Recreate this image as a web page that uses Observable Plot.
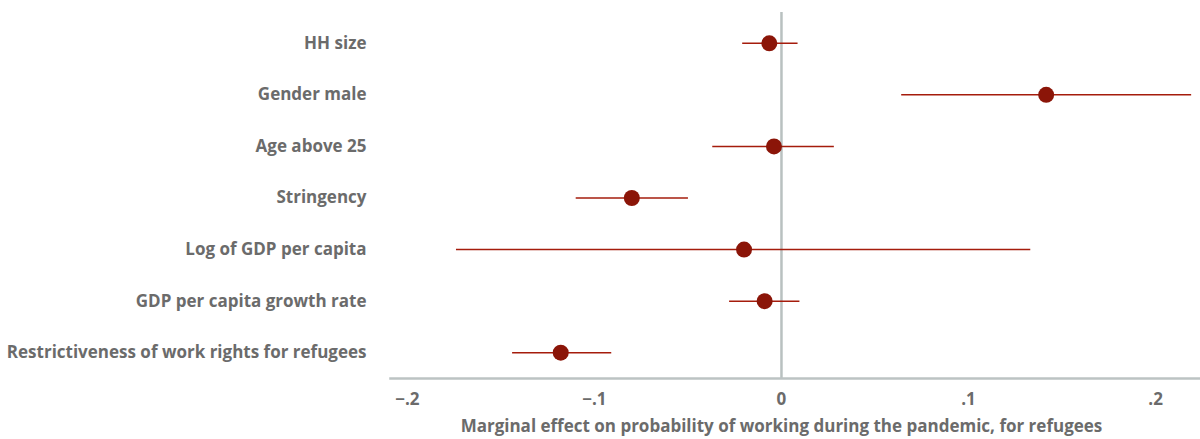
<!DOCTYPE html>
<html>
<head>
<meta charset="utf-8">
<script src="https://cdn.jsdelivr.net/npm/d3@7"></script>
<script src="https://cdn.jsdelivr.net/npm/@observablehq/plot@0.6"></script>
<style>
  body { margin: 0; background: #fff; }
  #chart svg { display: block; }
</style>
</head>
<body>
<div id="chart"></div>
<script>
const variables = [
  "HH size",
  "Gender male",
  "Age above 25",
  "Stringency",
  "Log of GDP per capita",
  "GDP per capita growth rate",
  "Restrictiveness of work rights for refugees"
];
const estimates = [-0.0065, 0.1415, -0.004, -0.080, -0.020, -0.009, -0.118];
const lower =     [-0.021, 0.064, -0.037, -0.110, -0.174, -0.028, -0.144];
const upper =     [0.0086, 0.219, 0.028, -0.050, 0.133, 0.0096, -0.091];
const xTicks = [-0.2, -0.1, 0, 0.1, 0.2];
const xTickLabels = ["\u2212.2", "\u2212.1", "0", ".1", ".2"];
const xTitle = "Marginal effect on probability of working during the pandemic, for refugees";

const data = variables.map((v, i) => ({variable: v, est: estimates[i], lo: lower[i], hi: upper[i]}));

const font = "'Open Sans', sans-serif";
const grey = "#6b6b6b";

const chart = Plot.plot({
  width: 1200,
  height: 439,
  marginLeft: 390,
  marginRight: 0,
  marginTop: 17,
  marginBottom: 61,
  style: {fontFamily: font, fontSize: "17px", fontWeight: "700", color: grey},
  x: {domain: [-0.209, 0.224], ticks: xTicks, tickFormat: (d) => xTickLabels[xTicks.indexOf(d)] ?? "", tickSize: 0, tickPadding: 14, label: null},
  y: {domain: variables, padding: 0.5, round: false, tickSize: 0, tickPadding: 24, label: null},
  marks: [
    Plot.ruleX([0], {stroke: "#b9c1c0", strokeWidth: 2.5, insetTop: -5}),
    Plot.frame({anchor: "bottom", stroke: "#bcc3c3", strokeWidth: 2.5}),
    Plot.link(data, {x1: "lo", x2: "hi", y1: "variable", y2: "variable", stroke: "#a51c0c", strokeWidth: 1.5}),
    Plot.dot(data, {x: "est", y: "variable", r: 8, fill: "#8b1508", stroke: "none"}),
    Plot.text([xTitle], {x: 0, frameAnchor: "bottom", dy: 53, text: (d) => d, fill: grey, fontSize: 17, fontWeight: "700"})
  ]
});

document.getElementById("chart").append(chart);
</script>
</body>
</html>
